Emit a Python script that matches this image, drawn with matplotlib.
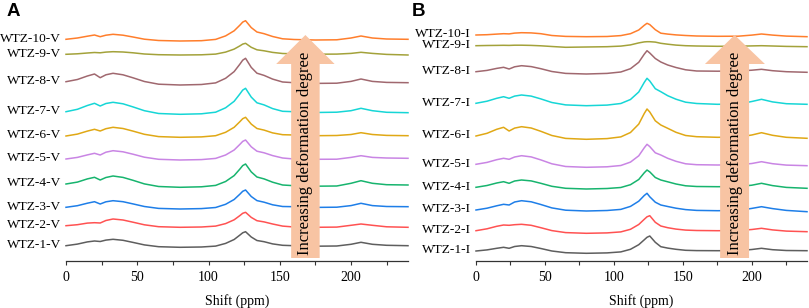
import matplotlib
matplotlib.use("Agg")
import matplotlib.pyplot as plt
from matplotlib.patches import Polygon
from matplotlib.ticker import MultipleLocator

# ---- data ----
shift_ppm = [0, 8, 15, 20, 24, 28, 33, 40, 47, 55, 65, 80, 95, 105, 112, 118,
             122, 124, 126, 130, 134, 139, 145, 152, 160, 175, 190, 200, 207, 215, 225, 240]

labels_A = ["WTZ-1-V", "WTZ-2-V", "WTZ-3-V", "WTZ-4-V", "WTZ-5-V",
            "WTZ-6-V", "WTZ-7-V", "WTZ-8-V", "WTZ-9-V", "WTZ-10-V"]
labels_B = ["WTZ-1-I", "WTZ-2-I", "WTZ-3-I", "WTZ-4-I", "WTZ-5-I",
            "WTZ-6-I", "WTZ-7-I", "WTZ-8-I", "WTZ-9-I", "WTZ-10-I"]

offsets_A = [13.7, 33.7, 52, 73.7, 101, 123.7, 146.7, 176, 206, 220]
offsets_B = [7.7, 27.7, 50, 72, 93.7, 121.7, 155.3, 187, 214.3, 224.3]

A1 = [1.6, 3.2, 5.4, 6.3, 5.8, 7.2, 8.0, 7.0, 4.9, 2.4, 0.6, 0.0, 0.3, 1.2, 3.9, 7.8, 12.2, 14.5, 15.6, 10.3, 6.8, 5.6, 3.4, 2.0, 1.6, 1.1, 1.3, 3.0, 5.0, 3.0, 2.0, 1.6]
A2 = [1.6, 2.6, 4.2, 4.6, 4.3, 6.8, 8.3, 7.3, 5.1, 2.5, 0.6, 0.0, 0.3, 1.2, 3.7, 7.5, 11.7, 14.0, 15.0, 9.9, 6.6, 5.4, 3.3, 1.2, 0.3, 0.0, 0.2, 2.0, 3.3, 2.0, 0.5, 0.0]
A3 = [1.7, 3.3, 5.8, 7.3, 5.0, 7.2, 8.3, 7.3, 5.1, 2.5, 0.6, 0.0, 0.4, 1.5, 4.7, 9.5, 14.8, 17.7, 19.0, 12.5, 8.4, 6.8, 4.2, 2.5, 2.3, 1.6, 1.8, 3.4, 5.7, 3.4, 2.5, 2.3]
A4 = [3.3, 5.2, 8.4, 10.0, 7.3, 9.8, 11.3, 9.9, 7.0, 3.4, 0.8, 0.0, 0.5, 1.9, 5.8, 11.7, 18.2, 21.7, 23.3, 15.4, 10.3, 8.4, 5.1, 2.3, 1.6, 1.1, 1.3, 4.0, 6.6, 4.0, 2.6, 2.3]
A5 = [1.0, 2.6, 5.1, 6.7, 5.0, 7.8, 9.3, 8.2, 5.8, 2.8, 0.7, 0.0, 0.4, 1.6, 5.0, 10.0, 15.6, 18.6, 20.0, 13.2, 8.8, 7.2, 4.4, 2.0, 1.0, 0.7, 0.8, 2.6, 4.3, 2.6, 2.0, 1.7]
A6 = [1.3, 3.2, 6.2, 8.0, 6.3, 8.6, 10.0, 8.8, 6.2, 3.0, 0.7, 0.0, 0.4, 1.6, 5.0, 10.0, 15.6, 18.6, 20.0, 13.2, 8.8, 7.2, 4.4, 2.6, 2.3, 1.6, 1.8, 2.8, 4.6, 2.8, 1.9, 1.6]
A7 = [2.6, 5.0, 8.8, 11.0, 8.3, 10.8, 12.0, 10.5, 7.4, 3.6, 0.8, 0.0, 0.5, 2.1, 6.5, 13.0, 20.3, 24.2, 26.0, 17.2, 11.5, 9.4, 5.7, 3.0, 2.6, 1.8, 2.1, 3.6, 6.0, 3.6, 2.0, 1.6]
A8 = [3.3, 5.5, 9.0, 11.0, 7.3, 10.2, 11.7, 10.2, 7.2, 3.5, 0.8, 0.0, 0.5, 2.1, 6.7, 13.4, 20.8, 24.8, 26.7, 17.6, 11.8, 9.6, 5.9, 3.0, 2.3, 1.6, 1.8, 3.6, 6.0, 3.6, 2.6, 2.3]
A9 = [0.7, 1.2, 2.0, 2.5, 2.2, 2.9, 3.3, 3.0, 2.2, 1.0, 0.3, 0.0, 0.2, 0.9, 2.9, 5.9, 9.1, 10.9, 11.7, 7.7, 5.2, 4.2, 2.6, 1.5, 1.2, 0.8, 0.9, 1.6, 2.7, 1.6, 0.6, 0.0]
A10 = [1.7, 3.0, 4.8, 6.0, 4.3, 5.8, 6.7, 5.8, 4.0, 1.8, 0.5, 0.0, 0.3, 1.6, 5.1, 10.2, 15.8, 18.9, 20.3, 13.4, 9.0, 7.3, 4.5, 2.2, 1.5, 1.0, 1.2, 3.0, 5.0, 3.0, 2.0, 1.7]

B1 = [2.3, 3.4, 5.0, 6.0, 5.0, 6.8, 7.6, 6.8, 4.8, 2.3, 0.6, 0.0, 0.4, 1.4, 4.0, 8.6, 13.5, 16.0, 17.3, 11.0, 6.6, 5.2, 4.0, 3.0, 2.7, 2.6, 2.7, 3.8, 5.0, 3.6, 2.8, 2.6]
B2 = [2.6, 4.5, 7.0, 8.3, 8.0, 8.6, 9.0, 8.0, 5.6, 2.7, 0.7, 0.0, 0.4, 1.4, 4.0, 8.8, 14.0, 16.5, 17.6, 11.0, 7.3, 5.6, 4.2, 3.2, 2.8, 2.6, 2.7, 3.8, 5.0, 3.4, 2.2, 1.6]
B3 = [1.0, 2.8, 5.2, 6.7, 6.0, 9.0, 10.3, 9.2, 6.5, 3.1, 0.8, 0.0, 0.5, 1.6, 4.6, 9.8, 15.5, 17.7, 14.2, 8.8, 6.0, 4.5, 2.8, 1.4, 0.6, 0.3, 0.5, 2.6, 4.3, 2.4, 0.6, -0.7]
B4 = [1.7, 3.5, 6.0, 7.3, 5.7, 8.0, 9.0, 8.1, 5.7, 2.7, 0.7, 0.0, 0.5, 1.5, 4.3, 9.5, 16.2, 19.0, 17.1, 11.5, 9.0, 7.2, 5.0, 3.2, 2.5, 2.3, 2.4, 3.8, 5.7, 3.4, 1.6, 0.7]
B5 = [3.0, 4.9, 7.6, 9.0, 8.0, 10.3, 11.6, 10.4, 7.4, 3.5, 0.8, 0.0, 0.5, 1.8, 5.2, 11.5, 19.5, 23.0, 20.7, 14.5, 12.3, 9.0, 6.0, 3.5, 2.6, 2.3, 2.5, 3.8, 5.6, 3.6, 2.2, 1.6]
B6 = [3.3, 6.0, 10.0, 12.0, 8.3, 11.2, 12.6, 11.3, 8.0, 3.8, 0.9, 0.0, 0.7, 2.4, 6.8, 15.2, 25.8, 30.3, 27.3, 18.5, 14.3, 11.0, 7.0, 3.8, 2.6, 2.0, 2.2, 4.3, 6.6, 4.0, 2.0, 1.0]
B7 = [2.4, 4.5, 7.4, 9.0, 7.4, 9.6, 10.7, 9.6, 6.8, 3.2, 0.8, 0.0, 0.6, 2.2, 6.2, 13.7, 23.3, 27.4, 24.7, 17.0, 14.0, 10.0, 6.5, 3.5, 2.2, 1.4, 1.6, 4.2, 6.4, 3.8, 2.0, 1.4]
B8 = [2.3, 3.6, 5.6, 6.7, 5.0, 7.2, 8.3, 7.4, 5.3, 2.5, 0.6, 0.0, 0.6, 2.0, 5.3, 11.7, 19.8, 23.3, 21.0, 15.5, 12.0, 9.0, 6.5, 4.2, 3.0, 2.8, 3.0, 3.8, 4.7, 3.3, 2.3, 1.7]
B9 = [1.0, 1.2, 1.3, 1.4, 1.3, 1.5, 1.5, 1.3, 0.9, 0.2, -0.6, -0.3, 0.0, 0.6, 1.8, 3.8, 4.8, 5.0, 5.0, 4.6, 3.4, 2.5, 1.6, 1.0, 0.7, 0.4, 0.5, 0.8, 1.0, 0.7, 0.3, 0.0]
B10 = [1.7, 2.0, 2.6, 3.0, 2.8, 3.6, 4.0, 3.8, 3.0, 1.2, 0.3, 0.0, 0.2, 1.1, 3.0, 6.7, 11.4, 13.4, 12.1, 7.0, 3.5, 2.6, 1.8, 1.2, 0.7, 0.4, 0.5, 1.6, 2.7, 1.6, 0.6, 0.0]

series_A = [A1, A2, A3, A4, A5, A6, A7, A8, A9, A10]
series_B = [B1, B2, B3, B4, B5, B6, B7, B8, B9, B10]

colors = ["#5e5e5e", "#ff5252", "#1e7ee8", "#17b46e", "#c985e4",
          "#e0a815", "#16d6d6", "#a0686f", "#a3a23a", "#ff7e2c"]

arrow_text = "Increasing deformation degree"
x_label = "Shift (ppm)"

# ---- figure ----
W, H = 809, 308
fig = plt.figure(figsize=(W / 100, H / 100), dpi=100)
serif = "Liberation Serif"

def make_axes(left_px, width_px):
    return fig.add_axes([left_px / W, 47 / H, width_px / W, 251 / H])

def draw_panel(ax, series, offsets, labels, shaft, head, letter, letter_x):
    for vals, off, lab, c in zip(series, offsets, labels, colors):
        y = [v + off for v in vals]
        ax.plot(shift_ppm, y, color=c, lw=1.1, zorder=2, clip_on=False,
                solid_joinstyle="round")
        ax.annotate(lab, xy=(0, y[0]), xytext=(-3.5, 0.5), textcoords="offset points",
                    ha="right", va="center", fontsize=9.6, family=serif,
                    annotation_clip=False)
    ax.set_xlim(0, 240)
    ax.set_ylim(0, 251)
    for s in ("top", "left", "right"):
        ax.spines[s].set_visible(False)
    ax.spines["bottom"].set_color("#333333")
    ax.spines["bottom"].set_linewidth(0.9)
    ax.set_yticks([])
    ax.xaxis.set_major_locator(MultipleLocator(50))
    ax.xaxis.set_minor_locator(MultipleLocator(25))
    ax.tick_params(axis="x", which="both", direction="out", length=3.2,
                   width=0.8, color="#333333", pad=4)
    for t in ax.get_xticklabels():
        t.set_fontfamily(serif)
        t.set_fontsize(10)
    ax.set_xlabel(x_label, fontsize=10, family=serif, labelpad=7)
    # arrow
    x0, x1 = shaft
    h0, h1 = head
    xm = (x0 + x1) / 2
    poly = Polygon([(x0, 3), (x1, 3), (x1, 197), (h1, 197), (xm, 226),
                    (h0, 197), (x0, 197)], closed=True,
                   facecolor="#f8c4a3", edgecolor="none", zorder=5, clip_on=False)
    ax.add_patch(poly)
    ax.text(xm, 108, arrow_text, rotation=90, ha="center", va="center",
            fontsize=12, family=serif, zorder=6)
    fig.text(letter_x / W, 1 - 3 / H, letter, ha="left", va="top",
             fontsize=13.5, fontweight="bold", family="Liberation Sans")

axA = make_axes(66, 342)
axB = make_axes(476, 331)
draw_panel(axA, series_A, offsets_A, labels_A, (158, 178), (147.5, 188.5), "A", 7)
draw_panel(axB, series_B, offsets_B, labels_B, (177, 198), (166, 209.5), "B", 412)

fig.savefig("out.png", dpi=100)
